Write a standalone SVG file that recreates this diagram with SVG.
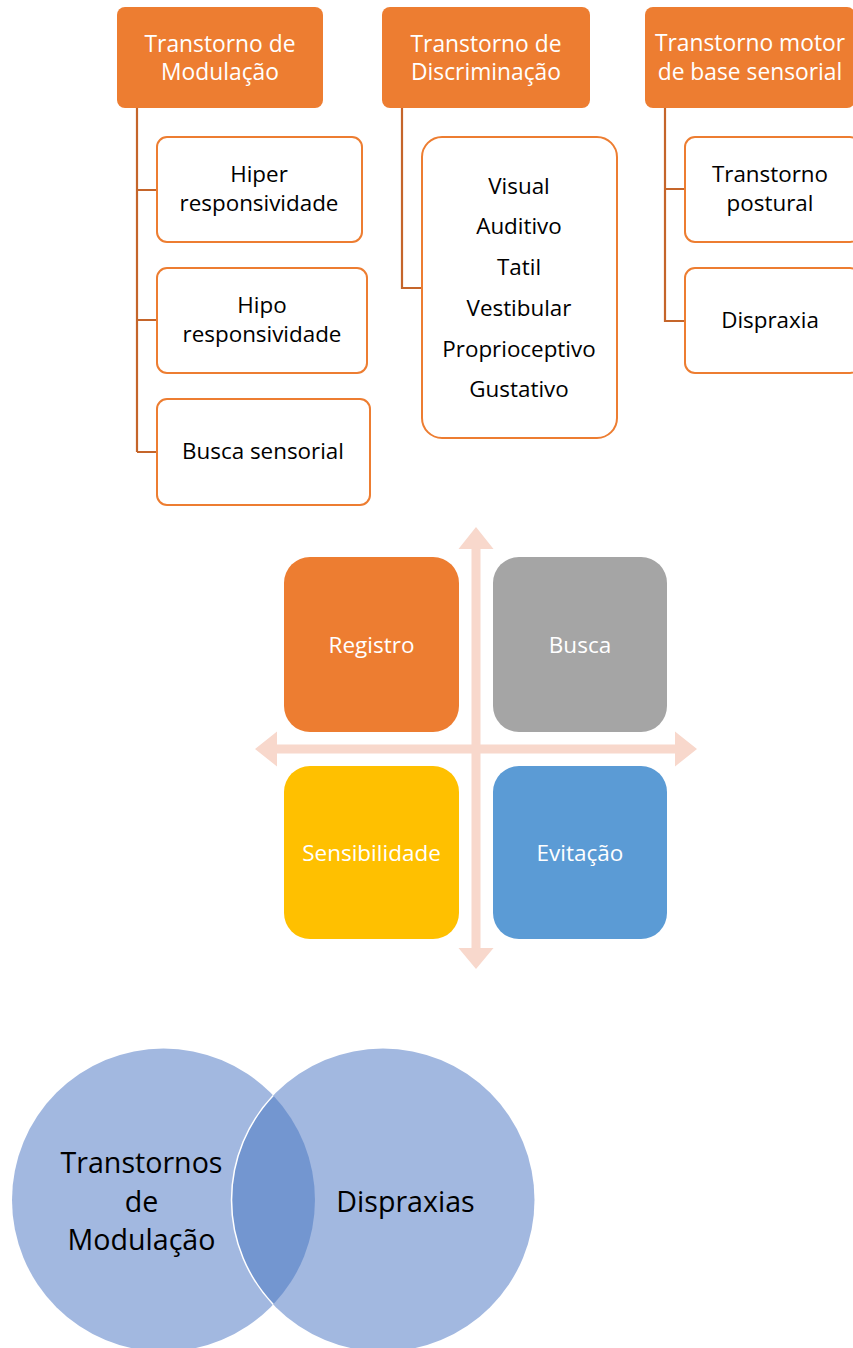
<svg xmlns="http://www.w3.org/2000/svg" width="853" height="1348" viewBox="0 0 853 1348">
<style>
.hdr{fill:#ED7D31}
.hdrt{fill:#FFFFFF;font-family:"Open Sans",sans-serif;font-size:22.8px;text-anchor:middle}
.box{fill:#FFFFFF;stroke:#ED7D31;stroke-width:2}
.boxt{fill:#000000;font-family:"Open Sans",sans-serif;font-size:22.4px;text-anchor:middle}
.con{fill:none;stroke:#C5652A;stroke-width:2.2}
.arr{fill:#F8D8CC}
.qt{fill:#FFFFFF;font-family:"Open Sans",sans-serif;font-size:22.5px;text-anchor:middle}
.circ{fill:#A2B8E0}
.vt{fill:#000000;font-family:"Open Sans",sans-serif;font-size:28.6px;text-anchor:middle}
</style>
<rect width="853" height="1348" fill="#FFFFFF"/>

<g id="connectors">
<path class="con" d="M137,108 V452 M137,190 H157 M137,320 H157 M137,452 H157"/>
<path class="con" d="M402,108 V288 H422"/>
<path class="con" d="M665,108 V321 H685 M665,189 H685"/>
</g>

<g id="h1"><rect class="hdr" x="117" y="7" width="206" height="101" rx="8"/>
<text class="hdrt" x="220" y="52">Transtorno de</text><text class="hdrt" x="220" y="80">Modulação</text></g>
<g id="h2"><rect class="hdr" x="382" y="7" width="208" height="101" rx="8"/>
<text class="hdrt" x="486" y="52">Transtorno de</text><text class="hdrt" x="486" y="80">Discriminação</text></g>
<g id="h3"><rect class="hdr" x="645" y="7" width="210" height="101" rx="8"/>
<text class="hdrt" x="750" y="51">Transtorno motor</text><text class="hdrt" x="750" y="80">de base sensorial</text></g>

<g id="b-hiper"><rect class="box" x="157" y="137" width="205" height="105" rx="10"/>
<text class="boxt" x="259" y="182">Hiper</text><text class="boxt" x="259" y="211">responsividade</text></g>
<g id="b-hipo"><rect class="box" x="157" y="268" width="210" height="105" rx="10"/>
<text class="boxt" x="262" y="313">Hipo</text><text class="boxt" x="262" y="342">responsividade</text></g>
<g id="b-busca"><rect class="box" x="157" y="399" width="213" height="106" rx="10"/>
<text class="boxt" x="263" y="459">Busca sensorial</text></g>

<g id="b-sentidos"><rect class="box" x="422" y="137" width="195" height="301" rx="20"/>
<text class="boxt" x="519" y="194">Visual</text>
<text class="boxt" x="519" y="234">Auditivo</text>
<text class="boxt" x="519" y="275">Tatil</text>
<text class="boxt" x="519" y="316">Vestibular</text>
<text class="boxt" x="519" y="357">Proprioceptivo</text>
<text class="boxt" x="519" y="397">Gustativo</text></g>

<g id="b-postural"><rect class="box" x="685" y="137" width="175" height="105" rx="10"/>
<text class="boxt" x="770" y="182">Transtorno</text><text class="boxt" x="770" y="211">postural</text></g>
<g id="b-dispraxia"><rect class="box" x="685" y="268" width="175" height="105" rx="10"/>
<text class="boxt" x="770" y="328">Dispraxia</text></g>

<g id="axes">
<path class="arr" d="M476,527 L493.5,549 H480.5 V948 H493.5 L476,969 L458.5,948 H471.5 V549 H458.5 Z"/>
<path class="arr" d="M255,749 L277,731.5 V744.5 H675 V731.5 L697,749 L675,766.5 V753.5 H277 V766.5 Z"/>
</g>

<g id="q-registro"><rect x="284" y="557" width="175" height="175" rx="26" fill="#ED7D31"/>
<text class="qt" x="371.5" y="653">Registro</text></g>
<g id="q-busca"><rect x="493" y="557" width="174" height="175" rx="26" fill="#A5A5A5"/>
<text class="qt" x="580" y="653">Busca</text></g>
<g id="q-sensibilidade"><rect x="284" y="766" width="175" height="173" rx="26" fill="#FFC000"/>
<text class="qt" x="371.5" y="861">Sensibilidade</text></g>
<g id="q-evitacao"><rect x="493" y="766" width="174" height="173" rx="26" fill="#5B9BD5"/>
<text class="qt" x="580" y="861">Evitação</text></g>

<g id="venn">
<circle class="circ" cx="163.5" cy="1200" r="151.5"/>
<circle class="circ" cx="383" cy="1200" r="151.5"/>
<path d="M273.25,1095.6 A151.5,151.5 0 0,1 273.25,1304.4 A151.5,151.5 0 0,1 273.25,1095.6 Z" fill="#7396D0"/>
<path d="M273.25,1095.6 A151.5,151.5 0 0,0 273.25,1304.4" fill="none" stroke="#FFFFFF" stroke-width="1.5"/>
</g>
<g id="v-modulacao"><text class="vt" x="141.5" y="1173">Transtornos</text><text class="vt" x="141.5" y="1212">de</text><text class="vt" x="141.5" y="1250">Modulação</text></g>
<g id="v-dispraxias"><text class="vt" x="405.5" y="1212">Dispraxias</text></g>
</svg>
